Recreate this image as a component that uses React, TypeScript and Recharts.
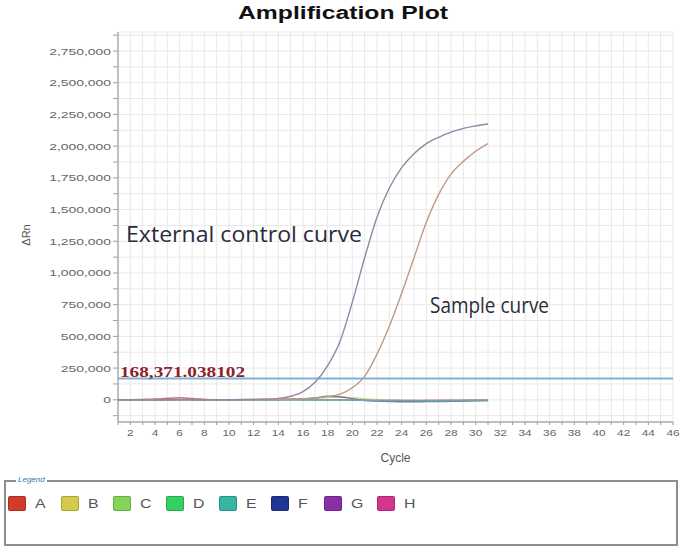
import React from "react";
import {
  LineChart,
  Line,
  XAxis,
  YAxis,
  CartesianGrid,
  ReferenceLine,
} from "recharts";

// cycles recorded for every well
const cycles = [
  1, 2, 3, 4, 5, 6, 7, 8, 9, 10, 11, 12, 13, 14, 15, 16, 17, 18, 19, 20, 21,
  22, 23, 24, 25, 26, 27, 28, 29, 30, 31,
];

// ΔRn
const controlCurve = [
  2000, 1000, 0, -1000, 0, 2000, 3000, 1000, 0, 1000, 2000, 3000, 5000, 11000,
  28000, 65000, 140000, 270000, 460000, 770000, 1120000, 1440000, 1670000,
  1830000, 1940000, 2020000, 2070000, 2110000, 2140000, 2160000, 2175000,
];
const sampleCurve = [
  -1000, 0, 1000, 0, -1000, 0, 1000, 2000, 1000, 0, 1000, 2000, 3000, 4000,
  6000, 9000, 15000, 25000, 45000, 95000, 185000, 360000, 580000, 840000,
  1120000, 1400000, 1620000, 1780000, 1880000, 1960000, 2020000,
];
const wellRed = [
  0, 1000, 3000, 6000, 12000, 16000, 10000, 3000, 0, -1000, 0, 1000, 0, -1000,
  0, 1000, 2000, 1000, 0, -1000, -2000, -3000, -4000, -5000, -5000, -4000,
  -4000, -3000, -3000, -2000, -2000,
];
const wellYellow = [
  -3000, -2000, -2000, -1000, -1000, 0, 0, 0, 1000, 1000, 1000, 2000, 2000,
  3000, 4000, 6000, 10000, 18000, 22000, 18000, 10000, 2000, -4000, -8000,
  -10000, -10000, -9000, -8000, -7000, -6000, -5000,
];
const wellGray = [
  0, 0, 1000, 1000, 0, 0, -1000, 0, 1000, 0, 0, 1000, 2000, 3000, 4000, 6000,
  15000, 28000, 25000, 8000, -5000, -10000, -13000, -15000, -15000, -14000,
  -13000, -12000, -10000, -8000, -5000,
];
const wellGreen = [
  -2000, -1000, 0, 0, 1000, 0, -1000, -1000, 0, 0, -1000, 0, 0, 1000, 0,
  -1000, -2000, -2000, -3000, -3000, -4000, -5000, -6000, -7000, -8000, -8000,
  -8000, -7000, -7000, -6000, -5000,
];
const wellTeal = [
  -1000, 0, 0, -1000, -1000, 0, 0, 1000, 0, -1000, 0, 0, -1000, 0, 0, -1000,
  -1000, -2000, -2000, -3000, -3000, -4000, -5000, -6000, -6000, -7000, -7000,
  -6000, -5000, -3000, -1000,
];

const threshold = 168371.038102;

const xTicks = [
  1, 2, 3, 4, 5, 6, 7, 8, 9, 10, 11, 12, 13, 14, 15, 16, 17, 18, 19, 20, 21,
  22, 23, 24, 25, 26, 27, 28, 29, 30, 31, 32, 33, 34, 35, 36, 37, 38, 39, 40,
  41, 42, 43, 44, 45, 46,
];
const yTicks = [
  -125000, 0, 125000, 250000, 375000, 500000, 625000, 750000, 875000, 1000000,
  1125000, 1250000, 1375000, 1500000, 1625000, 1750000, 1875000, 2000000,
  2125000, 2250000, 2375000, 2500000, 2625000, 2750000, 2875000,
];

const wells = ["A", "B", "C", "D", "E", "F", "G", "H"];
const wellColors = [
  "#d23a2c",
  "#d4cc48",
  "#84d45a",
  "#35d062",
  "#35b5a2",
  "#213594",
  "#8a30a6",
  "#d4368e",
];

const rows = cycles.map((c, i) => ({
  cycle: c,
  control: controlCurve[i],
  sample: sampleCurve[i],
  red: wellRed[i],
  yellow: wellYellow[i],
  gray: wellGray[i],
  green: wellGreen[i],
  teal: wellTeal[i],
}));

const FONT = "'Liberation Sans', Arial, sans-serif";
const STRETCH = 1.32;

function XTick(props: any) {
  const { x, y, payload } = props;
  const v = payload.value;
  if (v % 2 !== 0) return <g />;
  return (
    <text
      x={x}
      y={y}
      dy={9}
      textAnchor="middle"
      fontSize={9}
      fill="#666"
      fontFamily={FONT}
      transform={`translate(${x} 0) scale(${STRETCH} 1) translate(${-x} 0)`}
    >
      {v}
    </text>
  );
}

function YTick(props: any) {
  const { x, y, payload } = props;
  const v = payload.value;
  if (v < 0 || v % 250000 !== 0) return <g />;
  return (
    <text
      x={x}
      y={y}
      dy={3.5}
      textAnchor="end"
      fontSize={9.8}
      fill="#666"
      fontFamily={FONT}
      transform={`translate(${x} 0) scale(1.42 1) translate(${-x} 0)`}
    >
      {v.toLocaleString("en-US")}
    </text>
  );
}

function ThresholdLabel(props: any) {
  const { viewBox } = props;
  return (
    <text
      x={viewBox.x + 2}
      y={viewBox.y - 1}
      fontSize={14}
      fontWeight="bold"
      fill="#8e1f2e"
      fontFamily="'Liberation Serif', 'DejaVu Serif', serif"
      textLength={125}
      lengthAdjust="spacingAndGlyphs"
    >
      {threshold.toLocaleString("en-US", { maximumFractionDigits: 6 })}
    </text>
  );
}

function DeltaLabel(props: any) {
  const { viewBox } = props;
  const cx = 30;
  const cy = viewBox.y + viewBox.height / 2 + 8;
  return (
    <text
      x={cx}
      y={cy}
      textAnchor="middle"
      fontSize={11}
      fill="#555"
      fontFamily={FONT}
      transform={`rotate(-90 ${cx} ${cy})`}
    >
      ΔRn
    </text>
  );
}

export default function App() {
  return (
    <div
      style={{
        position: "absolute",
        left: 0,
        top: 0,
        width: 685,
        height: 557,
        background: "#fff",
        fontFamily: FONT,
      }}
    >
      <LineChart
        width={685}
        height={470}
        data={rows}
        margin={{ top: 32, right: 12, bottom: 0, left: 0 }}
      >
        <CartesianGrid stroke="#e8e8e8" />
        <XAxis
          dataKey="cycle"
          type="number"
          domain={[1, 46]}
          ticks={xTicks}
          interval={0}
          height={48}
          tick={XTick}
          tickSize={3}
          tickLine={{ stroke: "#9a9a9a" }}
          axisLine={{ stroke: "#8c8c8c" }}
          label={{
            value: "Cycle",
            position: "insideBottom",
            offset: 8,
            fontSize: 12,
            fill: "#555",
            fontFamily: FONT,
          }}
        />
        <XAxis
          xAxisId="top"
          orientation="top"
          dataKey="cycle"
          type="number"
          domain={[1, 46]}
          height={0}
          tick={false}
          tickLine={false}
          axisLine={{ stroke: "#a0a0a0" }}
        />
        <YAxis
          type="number"
          domain={[-175000, 2900000]}
          ticks={yTicks}
          interval={0}
          width={118}
          tick={YTick}
          tickSize={5}
          tickLine={{ stroke: "#a0a0a0" }}
          axisLine={{ stroke: "#8c8c8c" }}
          label={<DeltaLabel />}
        />
        <YAxis
          yAxisId="right"
          orientation="right"
          type="number"
          domain={[-175000, 2900000]}
          width={0}
          tick={false}
          tickLine={false}
          axisLine={{ stroke: "#a0a0a0" }}
        />
        <ReferenceLine
          y={threshold}
          stroke="#7fb2cf"
          strokeWidth={2}
          label={<ThresholdLabel />}
        />
        <Line dataKey="red" stroke="#c8707a" strokeWidth={1.5} dot={false} type="monotone" isAnimationActive={false} />
        <Line dataKey="yellow" stroke="#e2dd96" strokeWidth={1.5} dot={false} type="monotone" isAnimationActive={false} />
        <Line dataKey="green" stroke="#a2c97c" strokeWidth={1.5} dot={false} type="monotone" isAnimationActive={false} />
        <Line dataKey="gray" stroke="#7f7a86" strokeWidth={1.5} dot={false} type="monotone" isAnimationActive={false} />
        <Line dataKey="teal" stroke="#6aa6b8" strokeWidth={1.5} dot={false} type="monotone" isAnimationActive={false} />
        <Line dataKey="sample" stroke="#bf9a88" strokeWidth={1.4} dot={false} type="monotone" isAnimationActive={false} />
        <Line dataKey="control" stroke="#9486a4" strokeWidth={1.4} dot={false} type="monotone" isAnimationActive={false} />
      </LineChart>

      <svg
        width={685}
        height={470}
        style={{ position: "absolute", left: 0, top: 0, pointerEvents: "none" }}
      >
        <text
          x={343}
          y={19}
          textAnchor="middle"
          fontSize={18}
          fontWeight="bold"
          fill="#111"
          fontFamily={FONT}
          textLength={210}
          lengthAdjust="spacingAndGlyphs"
        >
          Amplification Plot
        </text>
        <text
          x={126}
          y={242}
          fontSize={21}
          fill="#2b2b3a"
          fontFamily="'Open Sans', 'Noto Sans', sans-serif"
          textLength={236}
          lengthAdjust="spacingAndGlyphs"
        >
          External control curve
        </text>
        <text
          x={430}
          y={313}
          fontSize={21}
          fill="#2b2b3a"
          fontFamily="'Open Sans', 'Noto Sans', sans-serif"
          textLength={119}
          lengthAdjust="spacingAndGlyphs"
        >
          Sample curve
        </text>
      </svg>

      <div
        style={{
          position: "absolute",
          left: 4,
          top: 480,
          width: 674,
          height: 66,
          border: "2px solid #8e8e8e",
          boxSizing: "border-box",
        }}
      >
        <div
          style={{
            position: "absolute",
            left: 10,
            top: -7,
            padding: "0 2px",
            background: "#fff",
            fontSize: 8,
            fontStyle: "italic",
            color: "#3d72b4",
          }}
        >
          Legend
        </div>
        <div style={{ position: "absolute", left: 2, top: 14, display: "flex" }}>
          {wells.map((w, i) => (
            <div
              key={w}
              style={{ width: 52.7, display: "flex", alignItems: "center" }}
            >
              <div
                style={{
                  width: 18,
                  height: 15,
                  borderRadius: 2,
                  background: wellColors[i],
                  border: "1px solid rgba(0,0,0,0.2)",
                  boxSizing: "border-box",
                }}
              />
              <span
                style={{
                  marginLeft: 9,
                  fontSize: 12,
                  color: "#555",
                  display: "inline-block",
                  transform: `scaleX(${STRETCH})`,
                  transformOrigin: "left center",
                }}
              >
                {w}
              </span>
            </div>
          ))}
        </div>
      </div>
    </div>
  );
}
